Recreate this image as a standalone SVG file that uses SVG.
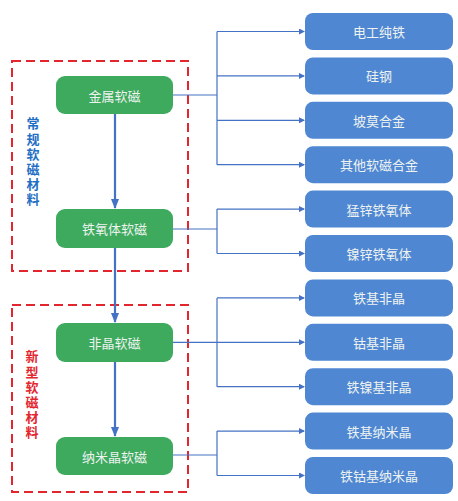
<svg xmlns="http://www.w3.org/2000/svg" width="458" height="501" viewBox="0 0 458 501">
<defs>
<marker id="ah" markerWidth="6" markerHeight="6" refX="5" refY="3" orient="auto" markerUnits="userSpaceOnUse"><path d="M0,0 L6,3 L0,6 Z" fill="#4472C4"/></marker>
<marker id="ahb" markerWidth="10" markerHeight="8" refX="9" refY="4" orient="auto" markerUnits="userSpaceOnUse"><path d="M0,0 L10,4 L0,8 Z" fill="#4472C4"/></marker>
</defs>
<style>
.g{fill:#3DAA5E}
.b{fill:#4F87D2}
.t{font-family:"Noto Sans CJK SC","Noto Sans",sans-serif;font-size:13px;fill:#EEF3F0;text-anchor:middle;dominant-baseline:central}
.c{fill:none;stroke:#4472C4;stroke-width:1.2}
.m{fill:none;stroke:#4472C4;stroke-width:2.2}
.d{fill:none;stroke:#E3262E;stroke-width:2;stroke-dasharray:9 5}
.v{font-family:"Noto Sans CJK SC",sans-serif;font-size:13px;font-weight:bold;writing-mode:vertical-rl;letter-spacing:2.2px}
.lb{fill:#1F6FC4}
.lr{fill:#E3262E}
</style>
<rect width="458" height="501" fill="#FFFFFF"/>
<g id="groups">
<rect class="d" x="12" y="61" width="176" height="210"/>
<rect class="d" x="12" y="305" width="176" height="187"/>
<text class="v lb" x="33" y="117">常规软磁材料</text>
<text class="v lr" x="32" y="350">新型软磁材料</text>
</g>
<g id="connectors">
<path class="m" d="M115,114 V208" marker-end="url(#ahb)"/>
<path class="m" d="M115,248 V322" marker-end="url(#ahb)"/>
<path class="m" d="M115,362 V436" marker-end="url(#ahb)"/>
<path class="c" d="M173,95 H217"/>
<path class="c" d="M217,31.5 V164.7"/>
<path class="c" d="M217,31.5 H304" marker-end="url(#ah)"/>
<path class="c" d="M217,75.9 H304" marker-end="url(#ah)"/>
<path class="c" d="M217,120.3 H304" marker-end="url(#ah)"/>
<path class="c" d="M217,164.7 H304" marker-end="url(#ah)"/>
<path class="c" d="M173,229 H217"/>
<path class="c" d="M217,209.1 V253.5"/>
<path class="c" d="M217,209.1 H304" marker-end="url(#ah)"/>
<path class="c" d="M217,253.5 H304" marker-end="url(#ah)"/>
<path class="c" d="M173,342.3 H304" marker-end="url(#ah)"/>
<path class="c" d="M217,297.9 V386.7"/>
<path class="c" d="M217,297.9 H304" marker-end="url(#ah)"/>
<path class="c" d="M217,386.7 H304" marker-end="url(#ah)"/>
<path class="c" d="M173,455 H217"/>
<path class="c" d="M217,431.1 V475.5"/>
<path class="c" d="M217,431.1 H304" marker-end="url(#ah)"/>
<path class="c" d="M217,475.5 H304" marker-end="url(#ah)"/>
</g>
<g id="n-metal"><rect class="g" x="56" y="76" width="117" height="38" rx="9"/><text class="t" x="114.5" y="95">金属软磁</text></g>
<g id="n-ferrite"><rect class="g" x="56" y="209" width="117" height="39" rx="9"/><text class="t" x="114.5" y="228.5">铁氧体软磁</text></g>
<g id="n-amorph"><rect class="g" x="56" y="323" width="117" height="39" rx="9"/><text class="t" x="114.5" y="342.5">非晶软磁</text></g>
<g id="n-nano"><rect class="g" x="56" y="437" width="117" height="38" rx="9"/><text class="t" x="114.5" y="456">纳米晶软磁</text></g>
<g id="b1"><rect class="b" x="305" y="13" width="148" height="37" rx="8"/><text class="t" x="379" y="31.5">电工纯铁</text></g>
<g id="b2"><rect class="b" x="305" y="57.4" width="148" height="37" rx="8"/><text class="t" x="379" y="75.9">硅钢</text></g>
<g id="b3"><rect class="b" x="305" y="101.8" width="148" height="37" rx="8"/><text class="t" x="379" y="120.3">坡莫合金</text></g>
<g id="b4"><rect class="b" x="305" y="146.2" width="148" height="37" rx="8"/><text class="t" x="379" y="164.7">其他软磁合金</text></g>
<g id="b5"><rect class="b" x="305" y="190.6" width="148" height="37" rx="8"/><text class="t" x="379" y="209.1">猛锌铁氧体</text></g>
<g id="b6"><rect class="b" x="305" y="235" width="148" height="37" rx="8"/><text class="t" x="379" y="253.5">镍锌铁氧体</text></g>
<g id="b7"><rect class="b" x="305" y="279.4" width="148" height="37" rx="8"/><text class="t" x="379" y="297.9">铁基非晶</text></g>
<g id="b8"><rect class="b" x="305" y="323.8" width="148" height="37" rx="8"/><text class="t" x="379" y="342.3">钴基非晶</text></g>
<g id="b9"><rect class="b" x="305" y="368.2" width="148" height="37" rx="8"/><text class="t" x="379" y="386.7">铁镍基非晶</text></g>
<g id="b10"><rect class="b" x="305" y="412.6" width="148" height="37" rx="8"/><text class="t" x="379" y="431.1">铁基纳米晶</text></g>
<g id="b11"><rect class="b" x="305" y="457" width="148" height="37" rx="8"/><text class="t" x="379" y="475.5">铁钴基纳米晶</text></g>
</svg>
